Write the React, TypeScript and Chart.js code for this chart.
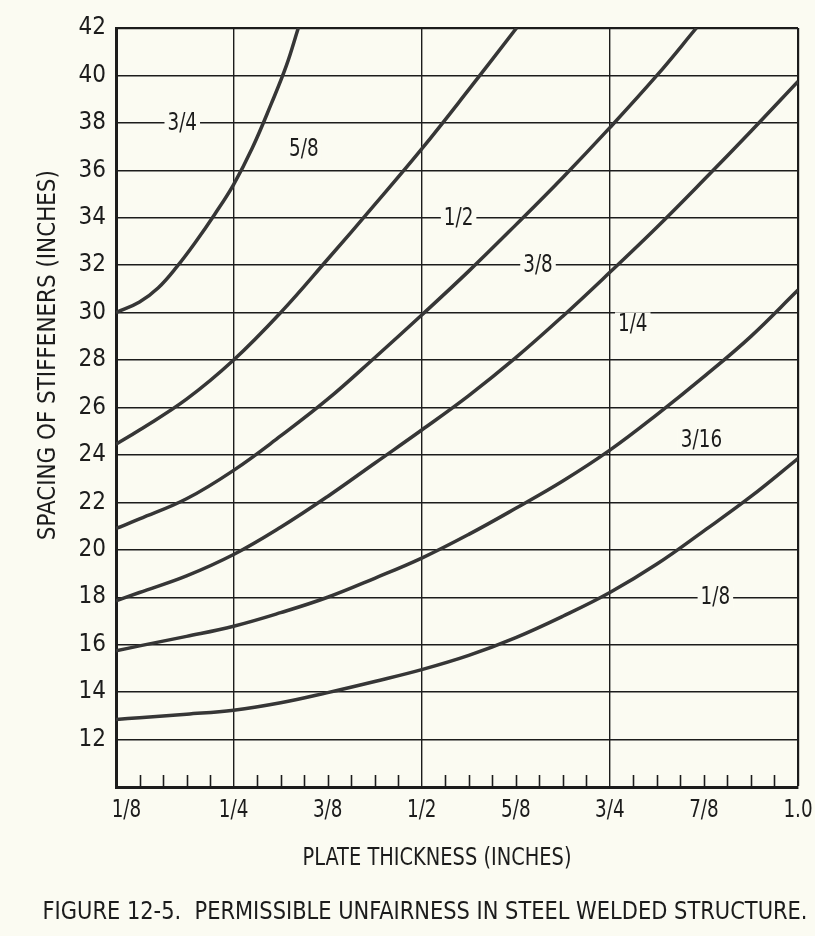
import { useEffect, useRef } from "react";
import { Chart, registerables } from "chart.js";

Chart.register(...registerables);

// ---------- data ----------
const xMin = 3 / 32;
const xMax = 1.0;
const yMin = 10;
const yMax = 42;

const xMajorValues = [0.125, 0.25, 0.375, 0.5, 0.625, 0.75, 0.875, 1.0];
const xMajorLabels = ["1/8", "1/4", "3/8", "1/2", "5/8", "3/4", "7/8", "1.0"];
const xGridValues = [0.25, 0.5, 0.75, 1.0];
const xMinorNumerators = [
  4, 5, 6, 7, 9, 10, 11, 12, 13, 14, 15, 17, 18, 19, 20, 21, 22, 23, 25, 26, 27, 28, 29, 30, 31,
];
const yTickValues = [10, 12, 14, 16, 18, 20, 22, 24, 26, 28, 30, 32, 34, 36, 38, 40, 42];

const curveA = [
  { x: 0.09375, y: 30.0 }, { x: 0.125, y: 30.45 }, { x: 0.15, y: 31.05 }, { x: 0.175, y: 31.95 },
  { x: 0.2, y: 33.0 }, { x: 0.225, y: 34.15 }, { x: 0.25, y: 35.4 }, { x: 0.275, y: 36.95 },
  { x: 0.3, y: 38.8 }, { x: 0.32, y: 40.4 }, { x: 0.336, y: 42.0 },
];
const curveB = [
  { x: 0.09375, y: 24.45 }, { x: 0.125, y: 25.05 }, { x: 0.1875, y: 26.35 }, { x: 0.25, y: 28.0 },
  { x: 0.3125, y: 30.0 }, { x: 0.375, y: 32.25 }, { x: 0.4375, y: 34.55 }, { x: 0.5, y: 36.9 },
  { x: 0.5625, y: 39.4 }, { x: 0.626, y: 42.0 },
];
const curveC = [
  { x: 0.09375, y: 20.9 }, { x: 0.125, y: 21.3 }, { x: 0.1875, y: 22.15 }, { x: 0.25, y: 23.35 },
  { x: 0.3125, y: 24.8 }, { x: 0.375, y: 26.35 }, { x: 0.4375, y: 28.1 }, { x: 0.5, y: 29.9 },
  { x: 0.5625, y: 31.75 }, { x: 0.625, y: 33.7 }, { x: 0.6875, y: 35.7 }, { x: 0.75, y: 37.8 },
  { x: 0.8125, y: 40.0 }, { x: 0.865, y: 42.0 },
];
const curveD = [
  { x: 0.09375, y: 17.85 }, { x: 0.125, y: 18.2 }, { x: 0.1875, y: 18.9 }, { x: 0.25, y: 19.8 },
  { x: 0.3125, y: 20.95 }, { x: 0.375, y: 22.25 }, { x: 0.4375, y: 23.65 }, { x: 0.5, y: 25.05 },
  { x: 0.5625, y: 26.5 }, { x: 0.625, y: 28.1 }, { x: 0.6875, y: 29.85 }, { x: 0.75, y: 31.7 },
  { x: 0.8125, y: 33.6 }, { x: 0.875, y: 35.6 }, { x: 0.9375, y: 37.65 }, { x: 1.0, y: 39.75 },
];
const curveE = [
  { x: 0.09375, y: 15.74 }, { x: 0.125, y: 15.95 }, { x: 0.1875, y: 16.35 }, { x: 0.25, y: 16.78 },
  { x: 0.3125, y: 17.35 }, { x: 0.375, y: 18.0 }, { x: 0.4375, y: 18.8 }, { x: 0.5, y: 19.65 },
  { x: 0.5625, y: 20.65 }, { x: 0.625, y: 21.75 }, { x: 0.6875, y: 22.9 }, { x: 0.75, y: 24.2 },
  { x: 0.8125, y: 25.7 }, { x: 0.875, y: 27.3 }, { x: 0.9375, y: 29.0 }, { x: 1.0, y: 30.95 },
];
const curveF = [
  { x: 0.09375, y: 12.85 }, { x: 0.125, y: 12.92 }, { x: 0.1875, y: 13.07 }, { x: 0.25, y: 13.24 },
  { x: 0.3125, y: 13.55 }, { x: 0.375, y: 13.98 }, { x: 0.4375, y: 14.45 }, { x: 0.5, y: 14.95 },
  { x: 0.5625, y: 15.55 }, { x: 0.625, y: 16.3 }, { x: 0.6875, y: 17.2 }, { x: 0.75, y: 18.2 },
  { x: 0.8125, y: 19.4 }, { x: 0.875, y: 20.8 }, { x: 0.9375, y: 22.25 }, { x: 1.0, y: 23.85 },
];
const curveNames = ["A", "B", "C", "D", "E", "F"];
const curveData = [curveA, curveB, curveC, curveD, curveE, curveF];

// curve labels (text and anchor in data units)
const labelTexts = ["3/4", "5/8", "1/2", "3/8", "1/4", "3/16", "1/8"];
const labelX = [0.1818, 0.3434, 0.549, 0.6545, 0.7804, 0.8717, 0.8902];
const labelY = [38, 36.9, 34, 32, 29.55, 24.63, 18];

const yTitle = "SPACING OF STIFFENERS (INCHES)";
const xTitle = "PLATE THICKNESS (INCHES)";
const caption = "FIGURE 12-5.  PERMISSIBLE UNFAIRNESS IN STEEL WELDED STRUCTURE.";

// ---------- styles ----------
const BG = "#fbfbf2";
const INK = "#1c1c1c";
const CURVE = "#363636";
const FONT = '"DejaVu Sans Condensed", "Liberation Sans Narrow", "Liberation Sans", sans-serif';

function drawFitted(ctx: any, text: string, cx: number, cy: number, width: number, rotate: boolean) {
  ctx.save();
  ctx.translate(cx, cy);
  if (rotate) ctx.rotate(-Math.PI / 2);
  const w = ctx.measureText(text).width;
  ctx.scale(width / w, 1);
  ctx.fillText(text, 0, 0);
  ctx.restore();
}

const overlayPlugin = {
  id: "overlay",
  afterDatasetsDraw(chart: any) {
    const { ctx, chartArea, scales } = chart;
    const xs = scales.x;
    const ys = scales.y;
    ctx.save();
    // minor ticks along the bottom, inside the plot
    ctx.strokeStyle = INK;
    ctx.lineWidth = 1.6;
    for (const n of xMinorNumerators) {
      const px = Math.round(xs.getPixelForValue(n / 32)) + 0.5;
      ctx.beginPath();
      ctx.moveTo(px, chartArea.bottom);
      ctx.lineTo(px, chartArea.bottom - 12);
      ctx.stroke();
    }
    // curve labels with paper-coloured backing
    ctx.font = `24px ${FONT}`;
    ctx.textAlign = "center";
    ctx.textBaseline = "middle";
    for (let i = 0; i < labelTexts.length; i++) {
      const px = xs.getPixelForValue(labelX[i]);
      const py = ys.getPixelForValue(labelY[i]);
      const w = ctx.measureText(labelTexts[i]).width * 0.85;
      ctx.fillStyle = BG;
      ctx.fillRect(px - w / 2 - 3, py - 11, w + 6, 22);
      ctx.fillStyle = INK;
      ctx.save();
      ctx.translate(px, py + 1);
      ctx.scale(0.85, 1);
      ctx.fillText(labelTexts[i], 0, 0);
      ctx.restore();
    }
    ctx.restore();
  },
  afterDraw(chart: any) {
    const { ctx, chartArea, scales } = chart;
    const xs = scales.x;
    ctx.save();
    ctx.fillStyle = INK;
    // x tick labels (condensed), placed by the x scale
    ctx.font = `24px ${FONT}`;
    ctx.textBaseline = "middle";
    for (let i = 0; i < xMajorValues.length; i++) {
      const px = xs.getPixelForValue(xMajorValues[i]);
      ctx.save();
      ctx.translate(px, chartArea.bottom + 24);
      ctx.scale(0.85, 1);
      ctx.textAlign = i === 0 ? "right" : "center";
      ctx.fillText(xMajorLabels[i], i === 0 ? 2 : 0, 0);
      ctx.restore();
    }
    ctx.textAlign = "center";
    ctx.font = `25px ${FONT}`;
    const plotH = chartArea.bottom - chartArea.top;
    const plotW = chartArea.right - chartArea.left;
    drawFitted(ctx, yTitle, 48, chartArea.top + 0.431 * plotH, 370, true);
    drawFitted(ctx, xTitle, chartArea.left + 0.4707 * plotW, 858, 269, false);
    drawFitted(ctx, caption, 425, 912, 765, false);
    ctx.restore();
  },
};

export default function App() {
  const ref = useRef<HTMLCanvasElement | null>(null);
  useEffect(() => {
    document.body.style.margin = "0";
    document.body.style.background = BG;
    const canvas = ref.current;
    if (!canvas) return;
    const chart = new Chart(canvas, {
      type: "line",
      data: {
        datasets: curveData.map((pts, i) => ({
          label: curveNames[i],
          data: pts,
          borderColor: CURVE,
          borderWidth: 3.5,
          pointRadius: 0,
          fill: false,
          tension: 0.4,
        })),
      },
      options: {
        responsive: false,
        animation: false,
        layout: { padding: { left: 0, right: 17, top: 28, bottom: 0 } },
        plugins: { legend: { display: false }, tooltip: { enabled: false } },
        scales: {
          x: {
            type: "linear",
            min: xMin,
            max: xMax,
            afterBuildTicks: (s: any) => {
              s.ticks = xMajorValues.map((v) => ({ value: v }));
            },
            afterFit: (s: any) => {
              s.height = 149;
              s.paddingLeft = 0;
              s.paddingRight = 0;
            },
            ticks: { display: false, autoSkip: false },
            grid: {
              drawTicks: false,
              color: (c: any) =>
                c.tick && xGridValues.some((g) => Math.abs(g - c.tick.value) < 1e-6) ? INK : "rgba(0,0,0,0)",
              lineWidth: (c: any) => (c.tick && Math.abs(c.tick.value - 1) < 1e-6 ? 2.2 : 1.4),
            },
            border: { display: true, color: INK, width: 3 },
          },
          y: {
            type: "linear",
            min: yMin,
            max: yMax,
            afterBuildTicks: (s: any) => {
              s.ticks = yTickValues.map((v) => ({ value: v }));
            },
            afterFit: (s: any) => {
              s.width = 116;
            },
            ticks: {
              padding: 10,
              color: INK,
              font: { family: FONT, size: 24 },
              callback: (v: any) => (Number(v) === 10 ? "" : String(v)),
            },
            grid: {
              drawTicks: false,
              color: INK,
              lineWidth: (c: any) => (c.tick && c.tick.value === 42 ? 2.2 : 1.4),
            },
            border: { display: true, color: INK, width: 3 },
          },
        },
      },
      plugins: [overlayPlugin],
    });
    return () => chart.destroy();
  }, []);
  return (
    <canvas ref={ref} width={815} height={936} style={{ display: "block", background: BG }} />
  );
}
